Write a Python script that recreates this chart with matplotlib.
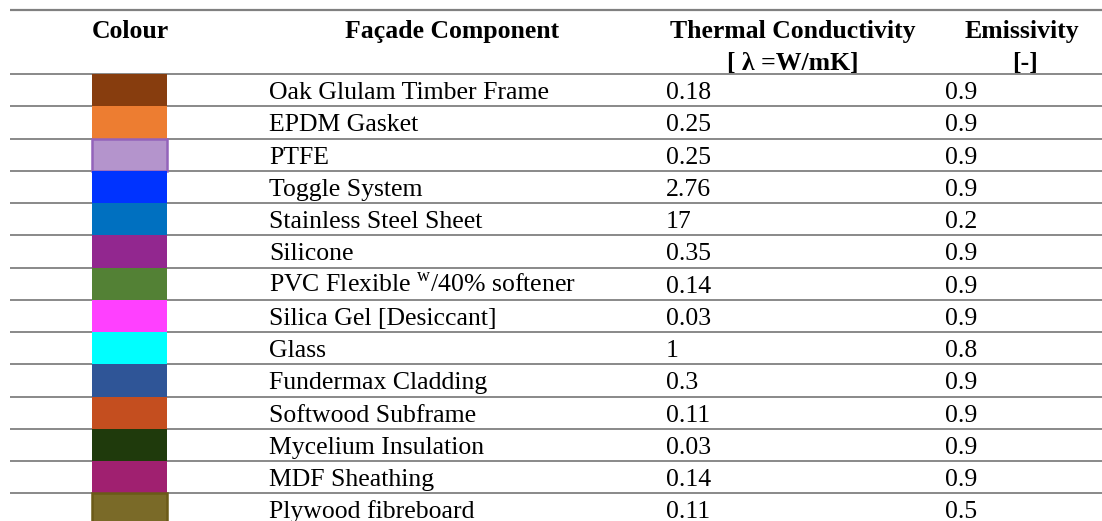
import matplotlib.pyplot as plt

# Table contents
components = ['Oak Glulam Timber Frame', 'EPDM Gasket', 'PTFE', 'Toggle System',
              'Stainless Steel Sheet', 'Silicone', r'PVC Flexible $^{\mathrm{w}}$/40% softener',
              'Silica Gel [Desiccant]', 'Glass', 'Fundermax Cladding', 'Softwood Subframe',
              'Mycelium Insulation', 'MDF Sheathing', 'Plywood fibreboard']
conductivity = [0.18, 0.25, 0.25, 2.76, 17, 0.35, 0.14, 0.03, 1, 0.3, 0.11, 0.03, 0.14, 0.11]
emissivity = [0.9, 0.9, 0.9, 0.9, 0.2, 0.9, 0.9, 0.9, 0.8, 0.9, 0.9, 0.9, 0.9, 0.5]
swatch_colours = ['#873D0E', '#ED7D31', '#B494CC', '#0033FF', '#0070C0', '#92278F',
                  '#538135', '#FF40FF', '#00FFFF', '#2F5597', '#C44E1F', '#1F3A0C',
                  '#A02070', '#7A6A28']
swatch_edges = ['none', 'none', '#9363BA', 'none', 'none', 'none', 'none',
                'none', 'none', 'none', 'none', 'none', 'none', '#6B5A18']
headers = ['Colour', 'Façade Component', 'Thermal Conductivity', 'Emissivity']
units = ['[ λ =W/mK]', '[-]']

plt.rcParams['font.family'] = ['Liberation Serif', 'DejaVu Serif']
plt.rcParams['mathtext.fontset'] = 'custom'
plt.rcParams['mathtext.rm'] = 'Liberation Serif'

fig = plt.figure(figsize=(11.02, 5.21), dpi=100)
ax = fig.add_axes([0, 0, 1, 1])
# x in pixels, y in table rows (row i spans i..i+1, header above 0)
ax.set_xlim(0, 1102)
ax.set_ylim(13.86, -2.295)
ax.axis('off')

rows = list(range(len(components)))
line_col = '#808080'

# horizontal rules
ax.hlines(-1.984, 10, 1102, color=line_col, lw=1.6)
ax.hlines(rows, 10, 1102, color=line_col, lw=1.3)

# colour swatches
ax.bar([129.5] * len(rows), 1.0, width=75, bottom=rows, color=swatch_colours,
       edgecolor=swatch_edges, linewidth=1.8, zorder=3)

# header
hfs = 18.5
y1, y2 = -1.12, -0.13
ax.text(130, y1, headers[0], ha='center', va='baseline', fontsize=hfs, fontweight='bold')
ax.text(452, y1, headers[1], ha='center', va='baseline', fontsize=hfs, fontweight='bold')
ax.text(793, y1, headers[2], ha='center', va='baseline', fontsize=hfs, fontweight='bold')
ax.text(1022, y1, headers[3], ha='center', va='baseline', fontsize=hfs, fontweight='bold')
ax.text(793, y2, units[0], ha='center', va='baseline', fontsize=hfs, fontweight='bold')
ax.text(1025, y2, units[1], ha='center', va='baseline', fontsize=hfs, fontweight='bold')

# body
fs = 18.5
for i in rows:
    ax.text(269, i + 0.78, components[i], fontsize=fs, va='baseline')
    ax.text(666, i + 0.78, f'{conductivity[i]:g}', fontsize=fs, va='baseline')
    ax.text(945, i + 0.78, f'{emissivity[i]:g}', fontsize=fs, va='baseline')

fig.savefig('out.png', dpi=100)
